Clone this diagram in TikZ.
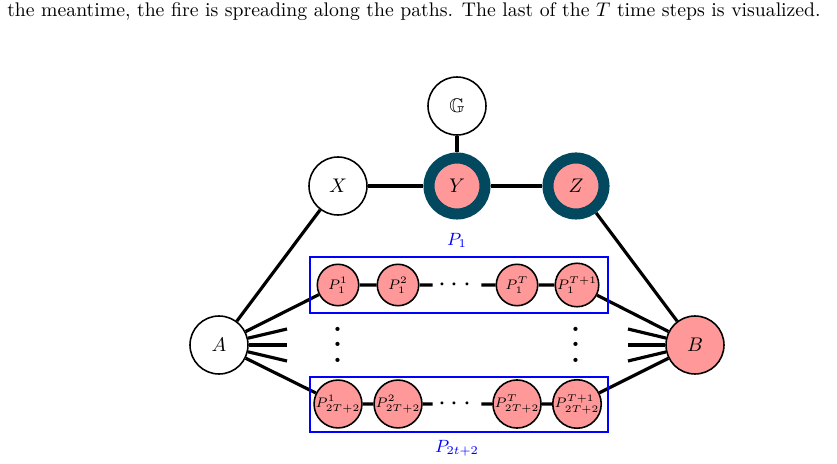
\documentclass[tikz,border=0pt]{standalone}
\usepackage{amsmath}
\usepackage{amssymb}
\usetikzlibrary{positioning}
\usetikzlibrary{backgrounds}
\definecolor{burnt}{RGB}{2,72,94}
\definecolor{fire}{RGB}{255,153,153}
\tikzset{
   vertex/.style = {%
    circle,
    draw=black,
    thick,
    fill=white,
    inner sep=0pt,
    minimum size=29.4pt},
   onfire/.style = {%
    vertex,
    fill=fire},
   defended/.style = {%
    circle,
    draw=burnt,
    line width=5.6pt,
    fill=fire,
    inner sep=0pt,
    minimum size=28.4pt},
   pathvertex/.style = {%
    circle,
    draw=black,
    thick,
    fill=fire,
    inner sep=0pt,
    minimum size=21pt,
    font=\scriptsize},
   hdots/.style = {%
    inner sep=0pt,
    minimum width=24.3pt,
    font=\Large},
   vdots/.style = {%
    inner sep=0pt,
    scale=2},
   pathbox/.style = {%
    draw=blue,
    thick},
   pathlabel/.style = {%
    text=blue,
    font=\small},
   edge/.style = {%
    ultra thick},
    }

\begin{document}
\begin{tikzpicture}[x=0.507pt,y=-0.507pt]
    \useasboundingbox (0,0) rectangle (837,464);
    % caption line
    \node[anchor=base] (cap) at (414,17) {the meantime, the fire is spreading along the paths. The last of the $T$ time steps is visualized.};

    % upper part
    \node[vertex] (G) at (457,106) {$\mathbb{G}$};
    \node[vertex] (X) at (338,186) {$X$};
    \node[defended] (Y) at (457,186) {$Y$};
    \node[defended] (Z) at (576,186) {$Z$};
    \node[vertex] (A) at (219,345) {$A$};
    \node[onfire] (B) at (695,345) {$B$};

    % first path
    \draw[pathbox] (310,257) rectangle (608,313);
    \node[pathlabel] (l1) at (457,240) {$P_1$};
    \node[pathvertex] (p11) at (338,285) {$P_1^1$};
    \node[pathvertex] (p12) at (398,285) {$P_1^2$};
    \node[hdots] (d1) at (457,285) {$\cdots$};
    \node[pathvertex] (p1T) at (517,285) {$P_1^T$};
    \node[pathvertex] (p1U) at (577,285) {$P_1^{T+1}$};

    % last path
    \draw[pathbox] (310,377) rectangle (608,432);
    \node[pathlabel] (l2) at (457,448) {$P_{2t+2}$};
    \node[pathvertex] (p21) at (338,404) {$P_{2T+2}^1$};
    \node[pathvertex] (p22) at (398,404) {$P_{2T+2}^2$};
    \node[hdots] (d2) at (457,404) {$\cdots$};
    \node[pathvertex] (p2T) at (517,404) {$P_{2T+2}^T$};
    \node[pathvertex] (p2U) at (577,404) {$P_{2T+2}^{T+1}$};

    % paths in between
    \node[vdots] (v1) at (338,333) {$\vdots$};
    \node[vdots] (v2) at (576,333) {$\vdots$};
    \coordinate (a1) at (287,329);
    \coordinate (a2) at (287,345);
    \coordinate (a3) at (287,361);
    \coordinate (b1) at (628,329);
    \coordinate (b2) at (628,345);
    \coordinate (b3) at (628,361);

    \begin{scope}[on background layer]
        \draw[edge] (G) -- (Y);
        \draw[edge] (X) -- (Y) -- (Z);
        \draw[edge] (A) -- (X);
        \draw[edge] (Z) -- (B);
        \draw[edge] (A) -- (p11) -- (p12) -- (d1) -- (p1T) -- (p1U) -- (B);
        \draw[edge] (A) -- (p21) -- (p22) -- (d2) -- (p2T) -- (p2U) -- (B);
        \draw[edge] (A) -- (a1);
        \draw[edge] (A) -- (a2);
        \draw[edge] (A) -- (a3);
        \draw[edge] (B) -- (b1);
        \draw[edge] (B) -- (b2);
        \draw[edge] (B) -- (b3);
    \end{scope}
\end{tikzpicture}
\end{document}
